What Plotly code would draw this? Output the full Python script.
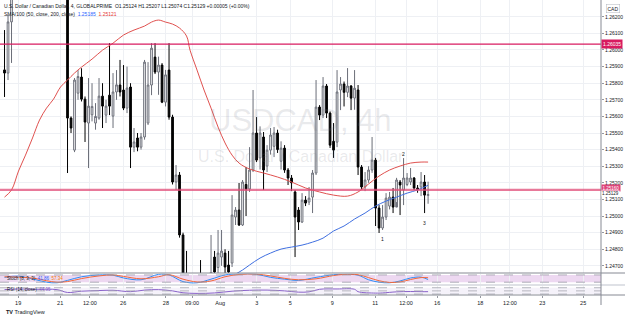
import plotly.graph_objects as go

# ---------------- data ----------------
candle_idx = list(range(122))
opens = [1.25880,1.25861,1.26169,1.2640,1.2668,1.2695,1.2688,1.2722,1.2750,1.2742,
         1.2712,1.2730,1.2785,1.2752,1.2708,1.2690,1.2672,1.2660,1.2655,1.25590,
         1.25397,1.25740,1.25837,1.25704,1.25560,1.25610,1.25560,1.25590,1.25722,1.25608,
         1.25728,1.25602,1.25747,1.25789,1.25759,1.25650,1.25777,1.25415,1.25470,1.25415,
         1.25476,1.25560,1.25789,1.25957,1.25867,1.25909,1.25686,1.25879,1.25596,1.25205,
         1.25247,1.24886,1.24600,1.24480,1.24450,1.24400,1.24500,1.24450,1.24300,1.24550,
         1.24753,1.24690,1.24753,1.24777,1.24705,1.24717,1.24994,1.25036,1.24946,1.25190,
         1.25163,1.25277,1.25500,1.25350,1.25476,1.25301,1.25397,1.25420,1.25500,1.25330,
         1.25409,1.25277,1.25229,1.25145,1.25036,1.24964,1.25096,1.25084,1.25114,1.25259,
         1.25656,1.25608,1.25783,1.25620,1.25450,1.25445,1.25759,1.25795,1.25745,1.25783,
         1.25710,1.25759,1.25295,1.25175,1.25217,1.25277,1.25337,1.25048,1.24928,1.24994,
         1.25060,1.25114,1.25054,1.25205,1.25157,1.25190,1.25205,1.25229,1.25169,1.25175,
         1.25205,1.25124]
highs = [1.26120,1.26211,1.26600,1.2672,1.2700,1.2720,1.2730,1.2765,1.2785,1.2760,
         1.2740,1.2800,1.2805,1.2770,1.2725,1.2715,1.2690,1.2675,1.2662,1.25600,
         1.25831,1.25879,1.25890,1.25720,1.25831,1.25800,1.25680,1.25831,1.25800,1.25700,
         1.26041,1.25861,1.25879,1.25940,1.25909,1.25900,1.25800,1.25530,1.25500,1.25500,
         1.25940,1.25927,1.26041,1.26041,1.25960,1.25921,1.25880,1.26041,1.25610,1.25307,
         1.25265,1.24900,1.24790,1.24620,1.24600,1.24620,1.24735,1.24600,1.24620,1.24886,
         1.24790,1.24916,1.24916,1.24800,1.24790,1.25126,1.25054,1.25199,1.25217,1.25295,
         1.25415,1.25759,1.25596,1.25540,1.25506,1.25427,1.25530,1.25536,1.25520,1.25450,
         1.25427,1.25289,1.25247,1.25157,1.25054,1.25138,1.25120,1.25175,1.25277,1.25819,
         1.25668,1.25837,1.25795,1.25630,1.25560,1.25879,1.25837,1.25810,1.25891,1.25789,
         1.25879,1.25789,1.25307,1.25265,1.25300,1.25476,1.25350,1.25066,1.25066,1.25138,
         1.25145,1.25169,1.25230,1.25217,1.25349,1.25259,1.25289,1.25235,1.25187,1.25265,
         1.25247,1.25207]
lows = [1.25717,1.25819,1.25922,1.2636,1.2660,1.2680,1.2675,1.2710,1.2735,1.2705,
        1.2690,1.2725,1.2740,1.2700,1.2680,1.2665,1.2650,1.2640,1.25259,1.25500,
        1.25385,1.25700,1.25690,1.25446,1.25289,1.25570,1.25520,1.25580,1.25530,1.25560,
        1.25608,1.25530,1.25700,1.25720,1.25638,1.25620,1.25289,1.25385,1.25390,1.25400,
        1.25460,1.25548,1.25728,1.25855,1.25730,1.25680,1.25660,1.25580,1.25190,1.25157,
        1.24870,1.24550,1.24400,1.24250,1.24200,1.24250,1.24300,1.24220,1.24220,1.24450,
        1.24550,1.24600,1.24700,1.24650,1.24630,1.24693,1.24946,1.24940,1.24940,1.25000,
        1.25145,1.25265,1.25325,1.25280,1.25157,1.25265,1.25370,1.25355,1.25380,1.25280,
        1.25260,1.25187,1.25150,1.24753,1.24916,1.24958,1.25060,1.25066,1.25018,1.25247,
        1.25578,1.25590,1.25590,1.25410,1.25350,1.25415,1.25638,1.25660,1.25716,1.25638,
        1.25640,1.25247,1.25163,1.25150,1.25200,1.25260,1.24940,1.24898,1.24916,1.24976,
        1.25040,1.25018,1.25084,1.25006,1.25066,1.25180,1.25187,1.25157,1.25140,1.25120,
        1.25018,1.25074]
closes = [1.25861,1.26169,1.26400,1.2668,1.2695,1.2688,1.2722,1.2750,1.2742,1.2712,
          1.2730,1.2785,1.2752,1.2708,1.2690,1.2672,1.2660,1.2655,1.25590,1.25530,
          1.25819,1.25840,1.25704,1.25566,1.25662,1.25660,1.25600,1.25722,1.25662,1.25662,
          1.25662,1.25747,1.25790,1.25747,1.25650,1.25771,1.25415,1.25446,1.25415,1.25476,
          1.25927,1.25789,1.26011,1.25867,1.25909,1.25686,1.25850,1.25596,1.25205,1.25247,
          1.24886,1.24600,1.24480,1.24450,1.24400,1.24500,1.24450,1.24300,1.24550,1.24660,
          1.24663,1.24777,1.24789,1.24693,1.24663,1.25006,1.25036,1.24946,1.25205,1.25163,
          1.25277,1.25500,1.25337,1.25500,1.25277,1.25397,1.25488,1.25500,1.25400,1.25409,
          1.25277,1.25229,1.25200,1.24994,1.24964,1.25096,1.25078,1.25108,1.25259,1.25656,
          1.25608,1.25783,1.25620,1.25427,1.25397,1.25747,1.25795,1.25745,1.25783,1.25710,
          1.25770,1.25295,1.25175,1.25217,1.25277,1.25337,1.25048,1.24928,1.24994,1.25108,
          1.25114,1.25054,1.25217,1.25187,1.25229,1.25229,1.25229,1.25169,1.25160,1.25205,
          1.25126,1.25129]

# moving averages (candle index, price)
ma_red_idx = [0,2,4,6,8,10,12,14,16,18,20,22,25,28,31,34,37,40,42,44,46,48,50,52,53,55,57,59,61,63,65,67,70,74,78,82,86,90,94,98,101,104,107,110,113,116,119,121]
ma_red_val = [1.25114,1.25157,1.25271,1.25367,1.25470,1.25578,1.25650,1.25704,1.25777,1.25819,
              1.25861,1.25897,1.25945,1.25999,1.26041,1.26090,1.26120,1.26144,1.26168,1.26180,
              1.26168,1.26156,1.26132,1.26084,1.25999,1.25879,1.25759,1.25650,1.25536,1.25440,
              1.25367,1.25319,1.25283,1.25259,1.25235,1.25205,1.25169,1.25145,1.25126,1.25120,
              1.25145,1.25193,1.25241,1.25277,1.25301,1.25319,1.25325,1.25325]
ma_blue_idx = [64,66,68,70,73,76,79,82,85,88,91,94,97,100,103,106,109,112,115,118,121]
ma_blue_val = [1.24633,1.24651,1.24675,1.24705,1.24747,1.24777,1.24801,1.24813,1.24825,1.24843,
               1.24867,1.24910,1.24940,1.24982,1.25018,1.25060,1.25090,1.25114,1.25138,1.25157,1.25185]

stoch_idx = [0,4,9,12,15,18,22,27,31,34,39,44,47,51,55,59,63,67,72,76,80,84,89,94,97,101,104,107,110,113,116,119,121]
stoch_k = [60,70,40,20,15,35,65,80,78,55,40,85,80,25,15,45,80,88,85,60,45,35,60,82,85,78,40,20,15,30,55,62,42]
stoch_d = [65,62,50,32,20,25,50,72,80,68,48,65,82,45,22,30,65,84,87,72,52,40,48,75,84,82,58,32,18,22,42,58,57]

rsi_idx = [0,4,9,15,18,22,27,31,36,40,44,48,51,55,60,65,70,75,80,84,87,90,95,100,101,106,108,112,116,119,121]
rsi_val = [58,62,60,58,40,48,52,54,45,55,58,50,38,34,37,48,54,55,50,42,44,60,62,60,45,36,37,44,46,45,45]

level_prices = [1.26035, 1.25157]
level_labels = ["1.26035", "1.25160"]
price_ticks = [1.247,1.248,1.249,1.250,1.251,1.252,1.253,1.254,1.255,1.256,1.257,1.258,1.259,1.260,1.261,1.262]
date_pos = [3.9,15.9,24.4,33.9,46.1,53.6,61.6,72.1,81.6,93.6,105.9,114.7,123.6,135.9,144.4,153.6,165.3]
date_text = ["19","21","12:00","26","28","09:00","Aug","3","5","9","11","12:00","16","18","12:00","23","25"]
wave_marks = [(108, 1.24860, "1"), (114, 1.25372, "2"), (120, 1.24960, "3")]

# ---------------- figure ----------------
FONT = "Liberation Sans"
TXT = "#131722"
GRID = "#eef0f4"
PLOT_H = 295.0
def fy(px):  # pixel row (from top of plot area) -> paper fraction
    return (PLOT_H - px) / PLOT_H

fig = go.Figure()

fig.add_trace(go.Candlestick(
    x=candle_idx, open=opens, high=highs, low=lows, close=closes,
    increasing=dict(line=dict(color="#6b6e78", width=1), fillcolor="#ffffff"),
    decreasing=dict(line=dict(color="#000000", width=1), fillcolor="#000000"),
    whiskerwidth=0, hoverinfo="skip", showlegend=False, xaxis="x", yaxis="y"))

fig.add_trace(go.Scatter(x=ma_red_idx, y=ma_red_val, mode="lines", line=dict(color="#e0514f", width=1, shape="spline"),
                         hoverinfo="skip", showlegend=False, xaxis="x", yaxis="y"))
fig.add_trace(go.Scatter(x=ma_blue_idx, y=ma_blue_val, mode="lines", line=dict(color="#3f6fe0", width=1, shape="spline"),
                         hoverinfo="skip", showlegend=False, xaxis="x", yaxis="y"))

fig.add_trace(go.Scatter(x=stoch_idx, y=stoch_k, mode="lines", line=dict(color="#2e8df6", width=1, shape="spline"),
                         hoverinfo="skip", showlegend=False, xaxis="x2", yaxis="y2"))
fig.add_trace(go.Scatter(x=stoch_idx, y=stoch_d, mode="lines", line=dict(color="#f2683a", width=1, shape="spline"),
                         hoverinfo="skip", showlegend=False, xaxis="x2", yaxis="y2"))
fig.add_trace(go.Scatter(x=rsi_idx, y=rsi_val, mode="lines", line=dict(color="#8a63c9", width=1, shape="spline"),
                         hoverinfo="skip", showlegend=False, xaxis="x3", yaxis="y3"))

XR = [-1.29, 170.4]
common_x = dict(range=XR, tickvals=date_pos, ticktext=date_text, showgrid=True, gridcolor=GRID,
                gridwidth=1, zeroline=False, showline=False, fixedrange=True)
fig.update_layout(
    width=625, height=318,
    margin=dict(l=0, r=24, t=0, b=23),
    paper_bgcolor="white", plot_bgcolor="white",
    font=dict(family=FONT, color=TXT, size=6),
    xaxis=dict(**common_x, anchor="y", showticklabels=False, rangeslider=dict(visible=False)),
    xaxis2=dict(**common_x, anchor="y2", matches="x", showticklabels=False),
    xaxis3=dict(**common_x, anchor="y3", matches="x", showticklabels=True, ticks="outside",
                ticklen=2, tickcolor="#9598a1", tickfont=dict(size=5.5, color=TXT)),
    yaxis=dict(domain=[fy(273), 1], range=[1.24657, 1.26301], side="right", tickvals=price_ticks,
               ticktext=[f"{v:.5f}" for v in price_ticks], tickfont=dict(size=5, color=TXT),
               showgrid=True, gridcolor=GRID, zeroline=False, ticks="outside", ticklen=2,
               tickcolor="#9598a1", showline=False),
    yaxis2=dict(domain=[fy(284), fy(273.5)], range=[5, 92], side="right", showticklabels=False,
                showgrid=False, zeroline=False),
    yaxis3=dict(domain=[0, fy(285.5)], range=[24, 84], side="right", showticklabels=False,
                showgrid=False, zeroline=False),
    showlegend=False,
)

shapes = []
# indicator bands
shapes.append(dict(type="rect", xref="x2 domain", yref="y2", x0=0, x1=1, y0=20, y1=80,
                   fillcolor="rgba(156,39,176,0.18)", line=dict(width=0), layer="below"))
for lv in (20, 80):
    shapes.append(dict(type="line", xref="x2 domain", yref="y2", x0=0, x1=1, y0=lv, y1=lv,
                       line=dict(color="#9a9ca6", width=0.8, dash="dash")))
shapes.append(dict(type="rect", xref="x3 domain", yref="y3", x0=0, x1=1, y0=30, y1=70,
                   fillcolor="rgba(126,87,194,0.08)", line=dict(width=0), layer="below"))
for lv in (30, 50, 70):
    shapes.append(dict(type="line", xref="x3 domain", yref="y3", x0=0, x1=1, y0=lv, y1=lv,
                       line=dict(color="#a3a5ae", width=0.8, dash="dash")))
# horizontal price levels
shapes.append(dict(type="line", xref="x domain", yref="y", x0=0, x1=1, y0=level_prices[0], y1=level_prices[0],
                   line=dict(color="#d81b60", width=1.2)))
shapes.append(dict(type="line", xref="x domain", yref="y", x0=0, x1=1, y0=level_prices[1], y1=level_prices[1],
                   line=dict(color="rgba(224,76,120,0.75)", width=2.2)))
# pane separators and price-scale border
shapes.append(dict(type="line", xref="paper", yref="paper", x0=0, x1=1.04, y0=fy(273), y1=fy(273),
                   line=dict(color="#868993", width=1)))
shapes.append(dict(type="rect", xref="paper", yref="paper", x0=0, x1=1.04, y0=fy(286), y1=fy(284),
                   fillcolor="#dfe1e6", line=dict(width=0)))
shapes.append(dict(type="line", xref="paper", yref="paper", x0=0, x1=1.04, y0=0, y1=0,
                   line=dict(color="#868993", width=1)))
shapes.append(dict(type="line", xref="paper", yref="paper", x0=1, x1=1, y0=fy(305), y1=1,
                   line=dict(color="#868993", width=1)))
fig.update_layout(shapes=shapes)

ann = []
# watermark
ann.append(dict(text="USDCAD, 4h", xref="x domain", yref="paper", x=0.5, y=fy(120), showarrow=False,
                font=dict(family=FONT, size=31, color="rgba(120,123,134,0.16)")))
ann.append(dict(text="U.S. Dollar / Canadian Dollar", xref="x domain", yref="paper", x=0.5, y=fy(156),
                showarrow=False, font=dict(family=FONT, size=16, color="rgba(120,123,134,0.16)")))
# legends
ann.append(dict(text="U.S. Dollar / Canadian Dollar, 4, GLOBALPRIME&nbsp;&nbsp;O1.25124&nbsp;H1.25207&nbsp;L1.25074&nbsp;C1.25129&nbsp;+0.00005 (+0.00%)",
                xref="paper", yref="paper", x=0.004, y=fy(6), xanchor="left", yanchor="middle",
                showarrow=False, font=dict(family=FONT, size=5, color=TXT)))
ann.append(dict(text="SMA/100 (50, close, 200, close)&nbsp;&nbsp;<span style='color:#2962ff'>1.25185</span>&nbsp;&nbsp;<span style='color:#e53935'>1.25121</span>",
                xref="paper", yref="paper", x=0.004, y=fy(14), xanchor="left", yanchor="middle",
                showarrow=False, font=dict(family=FONT, size=5, color=TXT)))
ann.append(dict(text="Stoch (8, 3, 3)&nbsp;&nbsp;<span style='color:#2962ff'>41.86</span>&nbsp;&nbsp;<span style='color:#f57c00'>57.34</span>",
                xref="paper", yref="paper", x=0.008, y=fy(278), xanchor="left", yanchor="middle",
                showarrow=False, font=dict(family=FONT, size=4.5, color=TXT)))
ann.append(dict(text="RSI (14, close)&nbsp;&nbsp;<span style='color:#7e57c2'>44.95</span>",
                xref="paper", yref="paper", x=0.008, y=fy(289.5), xanchor="left", yanchor="middle",
                showarrow=False, font=dict(family=FONT, size=4.5, color=TXT)))
# price-scale labels
ann.append(dict(text="CAD", xref="paper", yref="paper", x=1.008, y=fy(8), xanchor="left", yanchor="middle",
                showarrow=False, font=dict(family=FONT, size=5, color=TXT), bordercolor="#b2b5be",
                borderwidth=0.5, borderpad=1))
ann.append(dict(text=level_labels[0], xref="paper", yref="y", x=1.0, y=level_prices[0], xanchor="left",
                yanchor="middle", showarrow=False, bgcolor="#d81b60", borderpad=1,
                font=dict(family=FONT, size=5, color="white")))
ann.append(dict(text=level_labels[1], xref="paper", yref="y", x=1.0, y=level_prices[1] + 0.00012, xanchor="left",
                yanchor="middle", showarrow=False, bgcolor="#e0457b", borderpad=0.5,
                font=dict(family=FONT, size=4.5, color="white")))
ann.append(dict(text=f"{closes[-1]:.5f}", xref="paper", yref="y", x=1.0, y=closes[-1] + 0.00008, xanchor="left",
                yanchor="middle", showarrow=False, bgcolor="white", borderpad=0,
                font=dict(family=FONT, size=4.5, color=TXT)))
for (ix, pv, t) in wave_marks:
    ann.append(dict(text=t, x=ix, y=pv, xref="x", yref="y", showarrow=False,
                    font=dict(family=FONT, size=5, color=TXT)))
# TradingView credit
ann.append(dict(text="<b>TV</b> TradingView", xref="paper", yref="paper", x=0.006, y=fy(312), xanchor="left",
                yanchor="middle", showarrow=False, font=dict(family=FONT, size=5.5, color=TXT)))
fig.update_layout(annotations=ann)

fig.write_html("out.html")
